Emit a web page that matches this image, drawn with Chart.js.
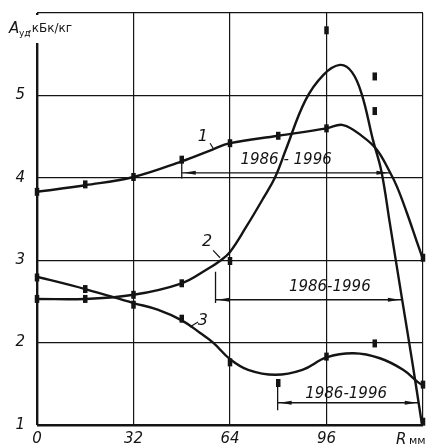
<!DOCTYPE html>
<html>
<head>
<meta charset="utf-8">
<script src="https://cdn.jsdelivr.net/npm/chart.js@4"></script>
<style>
  html, body { margin: 0; padding: 0; background: #fff; }
  canvas { display: block; }
</style>
</head>
<body>
<canvas id="chart" width="426" height="445"></canvas>
<script>
// measured points, R in mm
const sampleR = [0, 16, 32, 48, 64, 80, 96, 112, 128];
const measured1 = [3.83, 3.92, 4.01, 4.22, 4.42, 4.51, 4.6, 4.81, 3.03];
const measured2 = [2.53, 2.53, 2.58, 2.72, 2.99, null, 5.79, 5.23, 1.04];
const measured3 = [2.79, 2.65, 2.46, 2.29, 1.76, 1.51, 1.83, 1.99, 1.49];

// smoothed curves through the points
const curve1R = [0, 16, 32, 48, 58, 64, 80, 96, 101.5, 108, 112.7, 117, 119.4, 122.7, 126, 128];
const curve1A = [3.83, 3.91, 4.01, 4.2, 4.34, 4.42, 4.51, 4.6, 4.64, 4.5, 4.34, 4.07, 3.89, 3.57, 3.22, 3.01];
const curve2R = [0, 16, 32, 48, 56, 61, 64, 69.3, 75, 79, 82.5, 89, 95, 100.5, 104.5, 107.8, 111.4, 114.2, 117, 121, 124.3, 127.6];
const curve2A = [2.53, 2.53, 2.58, 2.72, 2.88, 3.0, 3.1, 3.4, 3.75, 4.01, 4.34, 4.94, 5.25, 5.37, 5.28, 5.0, 4.46, 4.08, 3.45, 2.54, 1.8, 1.02];
const curve3R = [0, 16, 32, 40, 48, 54, 58.4, 64, 70, 79, 88, 96, 105, 113.7, 121.4, 126.3, 128];
const curve3A = [2.8, 2.65, 2.48, 2.4, 2.27, 2.12, 2.0, 1.8, 1.67, 1.61, 1.67, 1.82, 1.87, 1.81, 1.67, 1.52, 1.48];

const xTickLabels = ['0', '32', '64', '96', ''];
const yTickLabels = ['1', '2', '3', '4', '5', ''];

// "1986-1996" period arrows
const periodLabels = ['1986 - 1996', '1986-1996', '1986-1996'];
const periodLevel = [4.06, 2.52, 1.27];
const periodFrom = [48, 59.2, 79.8];
const periodTo = [117.2, 121, 126.6];
const periodTickTop = [4.2, 2.86, 1.5];
const periodTickBottom = [3.99, 2.48, 1.18];
const periodTextR = [82.6, 97.1, 102.5];
const periodTextA = [4.21, 2.67, 1.38];

const curveNames = ['1', '2', '3'];

const ink = '#141414';
const font = "'DejaVu Sans', sans-serif";

const toXY = (xs, ys) => xs.map((x, i) => ({ x: x, y: ys[i] })).filter(p => p.y !== null);

const curveSet = (xs, ys) => ({
  data: toXY(xs, ys),
  borderColor: ink,
  borderWidth: 2.4,
  pointRadius: 0,
  tension: 0.4,
  fill: false
});

const markerSet = (ys) => ({
  data: toXY(sampleR, ys),
  showLine: false,
  clip: false,
  pointStyle: 'line',
  rotation: 90,
  pointRadius: 4,
  borderWidth: 4.5,
  borderColor: ink,
  backgroundColor: ink
});

const noOverflow = s => {
  s.paddingTop = 0; s.paddingBottom = 0; s.paddingLeft = 0; s.paddingRight = 0;
};

const decor = {
  id: 'decor',
  afterDraw(chart) {
    const ctx = chart.ctx;
    const xs = chart.scales.x, ys = chart.scales.y;
    const area = chart.chartArea;
    const px = v => xs.getPixelForValue(v);
    const py = v => ys.getPixelForValue(v);
    ctx.save();

    // gap in the left axis under the title
    ctx.fillStyle = '#fff';
    ctx.fillRect(area.left - 4, area.top + 2, 8, 28);

    // axis title
    ctx.fillStyle = ink;
    ctx.textBaseline = 'alphabetic';
    ctx.textAlign = 'left';
    ctx.font = 'italic 15px ' + font;
    ctx.fillText('A', 9, 33);
    ctx.font = '9px ' + font;
    ctx.fillText('уд', 19, 36);
    ctx.font = '12px ' + font;
    ctx.fillText(',кБк/кг', 28, 32);

    // R mm
    ctx.font = 'italic 15px ' + font;
    ctx.fillText('R', 396, 444);
    ctx.font = '11px ' + font;
    ctx.fillText('мм', 409, 444);

    // curve numbers with leaders
    const nameR = [55, 56.4, 55], nameA = [4.5, 3.22, 2.27];
    const leadFrom = [[57.4, 4.42], [58.4, 3.12], [53.4, 2.25]];
    const leadTo = [[58.7, 4.34], [60.7, 3.03], [50.7, 2.19]];
    ctx.font = 'italic 16px ' + font;
    ctx.textAlign = 'center';
    ctx.textBaseline = 'middle';
    ctx.strokeStyle = ink;
    ctx.lineWidth = 1.2;
    curveNames.forEach((n, i) => {
      ctx.fillText(n, px(nameR[i]), py(nameA[i]));
      ctx.beginPath();
      ctx.moveTo(px(leadFrom[i][0]), py(leadFrom[i][1]));
      ctx.lineTo(px(leadTo[i][0]), py(leadTo[i][1]));
      ctx.stroke();
    });

    // period arrows
    periodLabels.forEach((label, i) => {
      const y = py(periodLevel[i]);
      const x0 = px(periodFrom[i]), x1 = px(periodTo[i]);
      ctx.lineWidth = 1.3;
      ctx.beginPath();
      ctx.moveTo(x0, y);
      ctx.lineTo(x1, y);
      ctx.moveTo(x0, py(periodTickTop[i]));
      ctx.lineTo(x0, py(periodTickBottom[i]));
      ctx.stroke();
      [[x0 + 2, 1], [x1 - 2, -1]].forEach(([tip, dir]) => {
        ctx.beginPath();
        ctx.moveTo(tip, y);
        ctx.lineTo(tip + dir * 12, y - 2);
        ctx.lineTo(tip + dir * 12, y + 2);
        ctx.closePath();
        ctx.fill();
      });
      ctx.font = 'italic 15px ' + font;
      ctx.fillText(label, px(periodTextR[i]), py(periodTextA[i]));
    });
    ctx.restore();
  }
};

new Chart(document.getElementById('chart'), {
  type: 'line',
  data: {
    datasets: [
      curveSet(curve1R, curve1A),
      curveSet(curve2R, curve2A),
      curveSet(curve3R, curve3A),
      markerSet(measured1),
      markerSet(measured2),
      markerSet(measured3)
    ]
  },
  options: {
    responsive: false,
    animation: false,
    devicePixelRatio: 1,
    layout: { autoPadding: false, padding: { top: 13, right: 3, left: 0, bottom: 0 } },
    plugins: { legend: { display: false }, tooltip: { enabled: false } },
    scales: {
      x: {
        type: 'linear',
        min: 0,
        max: 128,
        border: { display: false },
        grid: {
          color: ink,
          drawTicks: false,
          lineWidth: c => (c.tick && c.tick.value === 0 ? 2.4 : 1.2)
        },
        ticks: {
          stepSize: 32,
          padding: 5,
          color: ink,
          font: { family: font, size: 15, style: 'italic' },
          callback: (v, i) => xTickLabels[i]
        },
        afterFit: s => { s.height = 20; noOverflow(s); }
      },
      y: {
        min: 1,
        max: 6,
        border: { display: false },
        grid: {
          color: ink,
          drawTicks: false,
          lineWidth: c => (c.tick && c.tick.value === 1 ? 2.4 : 1.2)
        },
        ticks: {
          stepSize: 1,
          padding: 12,
          color: ink,
          font: { family: font, size: 15, style: 'italic' },
          callback: (v, i) => yTickLabels[i]
        },
        afterFit: s => { s.width = 37; noOverflow(s); }
      }
    }
  },
  plugins: [decor]
});
</script>
</body>
</html>
